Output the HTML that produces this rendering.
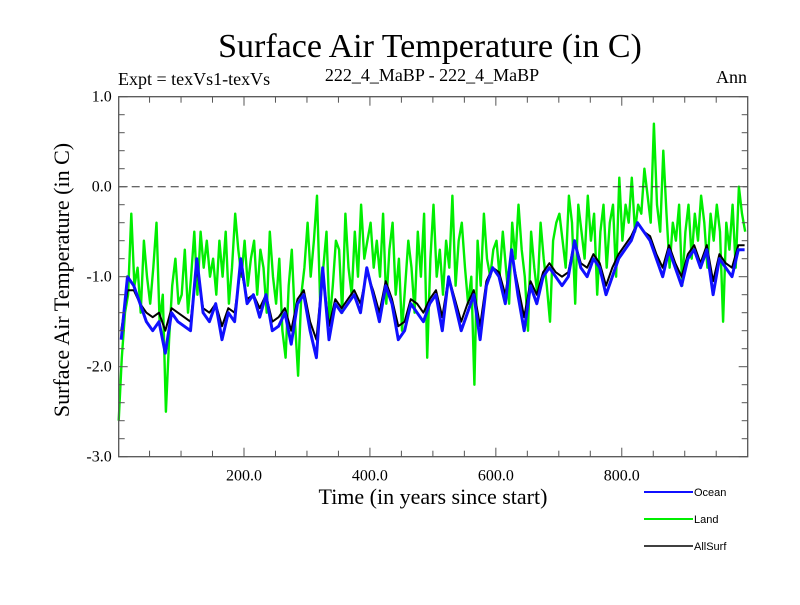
<!DOCTYPE html>
<html><head><meta charset="utf-8"><style>
body{margin:0;background:#fff;width:800px;height:600px;overflow:hidden}
text{font-family:"Liberation Serif",serif}
.s{font-family:"Liberation Sans",sans-serif}
</style></head><body>
<svg id="c" width="800" height="600">
<text x="430" y="57" font-size="34" text-anchor="middle">Surface Air Temperature (in C)</text>
<text x="118" y="85" font-size="18">Expt = texVs1-texVs</text>
<text x="432" y="81" font-size="18" text-anchor="middle">222_4_MaBP - 222_4_MaBP</text>
<text x="747" y="83" font-size="18" text-anchor="end">Ann</text>
<text transform="translate(69,280) rotate(-90)" font-size="22" text-anchor="middle">Surface Air Temperature (in C)</text>
<text x="433" y="504" font-size="22" text-anchor="middle">Time (in years since start)</text>
<g id="plot"></g>
<g id="axes"></g>
<g>
<line x1="644" y1="492" x2="693" y2="492" stroke="#1010ff" stroke-width="2"/>
<text class="s" x="694" y="496" font-size="11">Ocean</text>
<line x1="644" y1="519" x2="693" y2="519" stroke="#00ee00" stroke-width="2"/>
<text class="s" x="694" y="523" font-size="11">Land</text>
<line x1="644" y1="546" x2="693" y2="546" stroke="#000" stroke-width="1.5"/>
<text class="s" x="694" y="550" font-size="11">AllSurf</text>
</g>
</svg>
<script>
const ocean=[-1.7,-1.0,-1.1,-1.3,-1.5,-1.6,-1.5,-1.85,-1.4,-1.5,
-1.55,-1.6,-0.8,-1.4,-1.5,-1.3,-1.7,-1.4,-1.5,-0.8,
-1.3,-1.2,-1.45,-1.2,-1.6,-1.55,-1.4,-1.75,-1.3,-1.2,
-1.6,-1.9,-0.9,-1.7,-1.3,-1.4,-1.3,-1.2,-1.4,-0.9,
-1.2,-1.5,-1.1,-1.3,-1.7,-1.6,-1.3,-1.4,-1.5,-1.3,
-1.2,-1.6,-1.0,-1.3,-1.6,-1.4,-1.2,-1.7,-1.1,-0.9,
-1.0,-1.3,-0.7,-1.2,-1.6,-1.1,-1.3,-1.0,-0.9,-1.0,
-1.1,-1.0,-0.6,-0.9,-1.0,-0.8,-0.9,-1.2,-1.0,-0.8,
-0.7,-0.6,-0.4,-0.5,-0.6,-0.8,-1.0,-0.7,-0.9,-1.1,
-0.8,-0.7,-0.9,-0.7,-1.2,-0.8,-0.9,-1.0,-0.7,-0.7];
const land=[-2.6,-1.9,-1.4,-1.2,-0.3,-1.1,-0.9,-1.4,-0.6,-1.0,-1.3,-0.9,-0.4,-1.5,-1.2,-2.5,-1.7,-1.1,-0.8,-1.3,
-1.2,-0.7,-1.4,-1.0,-0.5,-1.2,-0.5,-0.9,-0.6,-1.0,-0.8,-1.2,-0.6,-1.0,-0.5,-1.3,-0.9,-0.3,-0.7,-1.0,
-0.6,-1.1,-0.8,-0.6,-1.2,-0.7,-0.9,-1.4,-0.5,-1.0,-1.3,-0.8,-1.6,-1.9,-1.1,-0.7,-1.5,-2.1,-1.2,-0.9,
-0.4,-1.0,-0.6,-0.1,-1.3,-0.9,-0.5,-1.5,-1.1,-0.6,-0.7,-1.4,-0.3,-0.9,-1.2,-0.5,-1.0,-0.2,-0.8,-0.6,
-0.4,-0.9,-0.6,-1.0,-0.3,-1.3,-0.7,-0.4,-1.2,-0.8,-1.6,-1.1,-0.6,-0.9,-1.4,-0.5,-1.0,-0.3,-1.9,-0.8,
-0.2,-1.0,-0.7,-1.2,-0.6,-0.9,-0.1,-1.1,-0.6,-0.4,-0.9,-1.3,-1.0,-2.2,-0.6,-1.1,-0.3,-0.8,-1.0,-0.7,
-0.6,-1.0,-0.5,-0.9,-1.3,-0.4,-0.8,-0.2,-0.7,-1.0,-1.6,-0.5,-0.9,-1.2,-0.4,-0.8,-1.1,-1.5,-0.6,-0.4,
-0.3,-0.6,-0.9,-0.1,-0.4,-1.3,-0.2,-0.5,-0.8,-0.1,-0.6,-0.3,-1.2,-0.5,-0.2,-0.9,-0.4,-0.2,-1.0,0.1,
-0.6,-0.2,-0.4,0.1,-0.5,-0.2,-0.3,0.2,-0.1,-0.4,0.7,-0.2,-0.5,0.4,-0.3,-0.9,-0.4,-0.6,-0.2,-1.1,
-0.5,-0.2,-0.8,-0.3,-0.6,-0.1,-0.4,-0.9,-0.3,-0.6,-0.2,-0.5,-1.5,-0.4,-0.7,-0.2,-0.9,0.0,-0.3,-0.5];
const allsurf=[-1.6,-1.15,-1.15,-1.3,-1.4,-1.45,-1.4,-1.6,-1.35,-1.4,
-1.45,-1.5,-0.9,-1.35,-1.4,-1.3,-1.55,-1.35,-1.4,-0.9,
-1.25,-1.2,-1.35,-1.2,-1.5,-1.45,-1.35,-1.6,-1.25,-1.15,
-1.5,-1.7,-0.95,-1.55,-1.25,-1.35,-1.25,-1.15,-1.3,-0.95,
-1.15,-1.4,-1.05,-1.25,-1.55,-1.5,-1.25,-1.3,-1.4,-1.25,
-1.15,-1.45,-1.0,-1.25,-1.5,-1.3,-1.15,-1.55,-1.05,-0.9,
-0.95,-1.2,-0.75,-1.1,-1.45,-1.05,-1.2,-0.95,-0.85,-0.95,
-1.0,-0.95,-0.6,-0.85,-0.9,-0.75,-0.85,-1.1,-0.9,-0.75,
-0.65,-0.55,-0.4,-0.5,-0.55,-0.75,-0.9,-0.65,-0.85,-1.0,
-0.75,-0.65,-0.85,-0.65,-1.05,-0.75,-0.85,-0.9,-0.65,-0.65];
const xTicks=[200,400,600,800];
const xTickLabels=["200.0","400.0","600.0","800.0"];
const yTicks=[1,0,-1,-2,-3];
const yTickLabels=["1.0","0.0","-1.0","-2.0","-3.0"];
const X0=118.7,X1=747.7,Y0=96.7,Y1=456.7,xmin=1,xmax=1000,ymin=-3,ymax=1;
const sx=v=>X0+(v-xmin)/(xmax-xmin)*(X1-X0);
const sy=v=>Y1-(v-ymin)/(ymax-ymin)*(Y1-Y0);
const NS='http://www.w3.org/2000/svg';
const plot=document.getElementById('plot'),axes=document.getElementById('axes');
function mk(t,a,p){const e=document.createElementNS(NS,t);for(const k in a)e.setAttribute(k,a[k]);p.appendChild(e);return e;}
function series(arr,start,step,col,w,name){
 const pts=arr.map((v,i)=>sx(Math.min(xmax,start+i*step)).toFixed(1)+','+sy(v).toFixed(1)).join(' ');
 const e=mk('polyline',{points:pts,fill:'none',stroke:col,'stroke-width':w,'stroke-linejoin':'round'},plot);
 
 
}
series(land,1,5,'#00ee00',2.4,'land-line');
series(allsurf,5,10,'#000',2,'allsurf-line');
series(ocean,5,10,'#1010ff',3,'ocean-line');
const z=mk('line',{x1:X0,x2:X1,y1:sy(0),y2:sy(0),stroke:'#333','stroke-width':1,'stroke-dasharray':'8,5'},axes);


const fr=mk('rect',{x:X0,y:Y0,width:X1-X0,height:Y1-Y0,fill:'none',stroke:'#555','stroke-width':1.3},axes);


for(let v=50;v<xmax;v+=50){const L=(v%200===0)?9:6;
 mk('line',{x1:sx(v),x2:sx(v),y1:Y1,y2:Y1-L,stroke:'#555'},axes);
 mk('line',{x1:sx(v),x2:sx(v),y1:Y0,y2:Y0+L,stroke:'#555'},axes);}
for(let k=-15;k<=5;k++){const v=k*0.2;const L=(k%5===0)?9:6;
 mk('line',{x1:X0,x2:X0+L,y1:sy(v),y2:sy(v),stroke:'#555'},axes);
 mk('line',{x1:X1,x2:X1-L,y1:sy(v),y2:sy(v),stroke:'#555'},axes);}
xTicks.forEach((v,i)=>{const t=mk('text',{x:sx(v),y:Y1+24,'font-size':16,'text-anchor':'middle'},axes);t.textContent=xTickLabels[i];
 
 });
yTicks.forEach((v,i)=>{const t=mk('text',{x:X0-7,y:sy(v)+5,'font-size':16,'text-anchor':'end'},axes);t.textContent=yTickLabels[i];
 
 });
</script>
</body></html>
